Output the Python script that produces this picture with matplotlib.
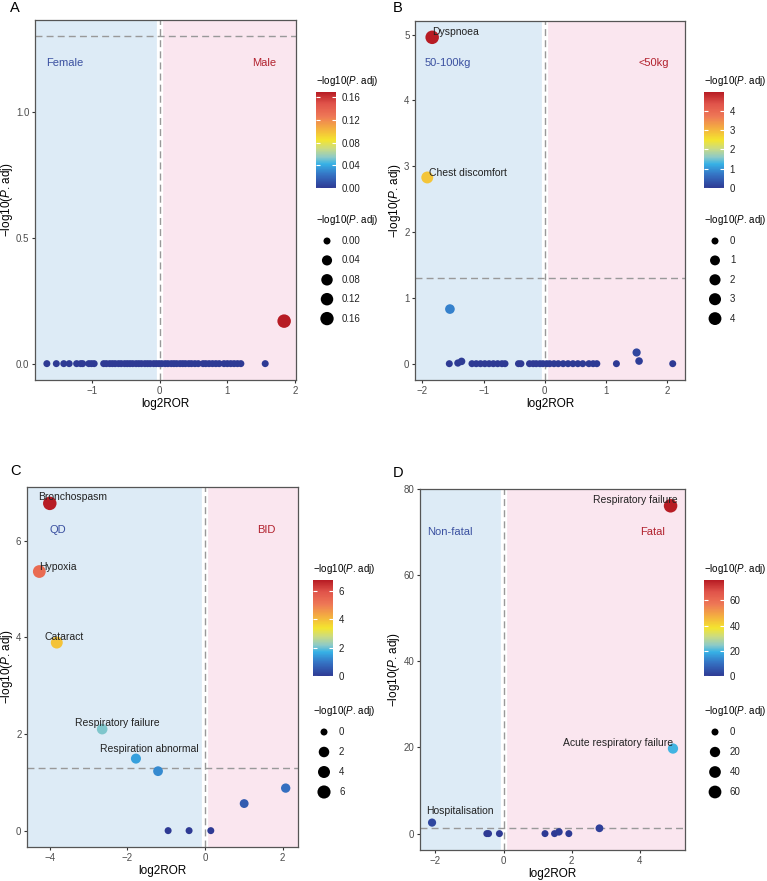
import numpy as np
import matplotlib
matplotlib.use("Agg")
import matplotlib.pyplot as plt
from matplotlib.colors import LinearSegmentedColormap, Normalize
from matplotlib.cm import ScalarMappable

plt.rcParams["font.family"] = ["Liberation Sans", "DejaVu Sans"]
plt.rcParams["mathtext.fontset"] = "custom"
plt.rcParams["mathtext.rm"] = "Liberation Sans"
plt.rcParams["mathtext.it"] = "Liberation Sans:italic"

W, H = 767, 881

# ---- A: sex (Female vs Male) ----
a_x = [-1.67, -1.53, -1.42, -1.34, -1.23, -1.17, -1.14, -1.05, -1.01, -0.97,
       -0.83, -0.79, -0.74, -0.70, -0.66, -0.61, -0.57, -0.52, -0.48, -0.44,
       -0.40, -0.35, -0.31, -0.27, -0.22, -0.18, -0.14, -0.09, -0.05, -0.01,
       0.03, 0.08, 0.12, 0.17, 0.21, 0.25, 0.30, 0.34, 0.38, 0.43,
       0.47, 0.52, 0.57, 0.64, 0.68, 0.73, 0.78, 0.83, 0.88, 0.95,
       1.00, 1.05, 1.10, 1.15, 1.20, 1.56, 1.84]
a_y = [0.0, 0.0, 0.0, 0.0, 0.0, 0.0, 0.0, 0.0, 0.0, 0.0,
       0.0, 0.0, 0.0, 0.0, 0.0, 0.0, 0.0, 0.0, 0.0, 0.0,
       0.0, 0.0, 0.0, 0.0, 0.0, 0.0, 0.0, 0.0, 0.0, 0.0,
       0.0, 0.0, 0.0, 0.0, 0.0, 0.0, 0.0, 0.0, 0.0, 0.0,
       0.0, 0.0, 0.0, 0.0, 0.0, 0.0, 0.0, 0.0, 0.0, 0.0,
       0.0, 0.0, 0.0, 0.0, 0.0, 0.0, 0.169]
a_groups = ["Female", "Male"]
a_group_x = [-1.40, 1.55]
a_labels, a_lab_x, a_lab_y = [], [], []

# ---- B: weight (50-100kg vs <50kg) ----
b_x = [-1.84, -1.92, -1.55, -1.56, -1.42, -1.36, -1.19, -1.12, -1.05, -0.98,
       -0.91, -0.84, -0.77, -0.70, -0.65, -0.43, -0.39, -0.25, -0.19, -0.14,
       -0.08, -0.03, 0.03, 0.08, 0.15, 0.22, 0.30, 0.38, 0.46, 0.54,
       0.62, 0.72, 0.79, 0.85, 1.17, 1.50, 1.54, 2.09]
b_y = [4.96, 2.83, 0.83, 0.0, 0.01, 0.035, 0.0, 0.0, 0.0, 0.0,
       0.0, 0.0, 0.0, 0.0, 0.0, 0.0, 0.0, 0.0, 0.0, 0.0,
       0.0, 0.0, 0.0, 0.0, 0.0, 0.0, 0.0, 0.0, 0.0, 0.0,
       0.0, 0.0, 0.0, 0.0, 0.0, 0.17, 0.04, 0.0]
b_groups = ["50-100kg", "<50kg"]
b_group_x = [-1.59, 1.78]
b_labels = ["Dyspnoea", "Chest discomfort"]
b_lab_x = [-1.46, -1.25]
b_lab_y = [5.04, 2.90]

# ---- C: dosing (QD vs BID) ----
c_x = [-4.00, -4.27, -3.82, -2.65, -1.78, -1.21, -0.95, -0.41, 0.15, 1.01, 2.08]
c_y = [6.77, 5.36, 3.89, 2.10, 1.49, 1.23, 0.0, 0.0, 0.0, 0.56, 0.88]
c_groups = ["QD", "BID"]
c_group_x = [-3.79, 1.59]
c_labels = ["Bronchospasm", "Hypoxia", "Cataract", "Respiratory failure", "Respiration abnormal"]
c_lab_x = [-3.40, -3.80, -3.63, -2.26, -1.43]
c_lab_y = [6.90, 5.46, 4.01, 2.22, 1.69]

# ---- D: outcome (Non-fatal vs Fatal) ----
d_x = [4.91, 4.98, -2.10, -0.49, -0.44, -0.12, 1.22, 1.50, 1.63, 1.92, 2.82]
d_y = [76.1, 19.75, 2.56, 0.0, 0.0, 0.0, 0.0, 0.0, 0.4, 0.0, 1.24]
d_groups = ["Non-fatal", "Fatal"]
d_group_x = [-1.59, 4.37]
d_labels = ["Respiratory failure", "Acute respiratory failure", "Hospitalisation"]
d_lab_x = [3.88, 3.37, -1.29]
d_lab_y = [77.5, 21.0, 5.2]

cmap = LinearSegmentedColormap.from_list("padj", [
    (0.00, "#2E3A94"), (0.14, "#3573C4"), (0.25, "#36B1E6"), (0.32, "#8CCAC8"),
    (0.41, "#CADB84"), (0.50, "#F4E52E"), (0.62, "#F4B040"), (0.75, "#EE7756"),
    (0.88, "#E0534A"), (1.00, "#B71C24")])

BLUE_BG, PINK_BG = "#DDEBF6", "#FAE6EF"
BLUE_TXT, RED_TXT = "#3A50A0", "#B2222E"
TICK_C = "#4D4D4D"
YLAB = r"$-$log10($\mathit{P}$. adj)"
CUT = 1.301

fig = plt.figure(figsize=(W / 100, H / 100), dpi=100)


def px_rect(l, t, r, b):
    return [l / W, 1 - b / H, (r - l) / W, (b - t) / H]


def dot_size(v, vmax):
    d = 7.0 + 6.5 * np.sqrt(np.asarray(v) / vmax)
    return (d * 0.72) ** 2


def volcano(rect, xs, ys, groups, group_x, labels, lab_x, lab_y, xticks, yticks, yfmt):
    ax = fig.add_axes(px_rect(*rect))
    xs, ys = np.asarray(xs), np.asarray(ys)
    vmax = ys.max()
    x0, x1 = min(xs.min(), 0), max(xs.max(), 0)
    y0, y1 = min(ys.min(), 0), max(ys.max(), CUT)
    ax.set_xlim(x0 - 0.05 * (x1 - x0), x1 + 0.05 * (x1 - x0))
    ax.set_ylim(y0 - 0.05 * (y1 - y0), y1 + 0.05 * (y1 - y0))
    xl = ax.get_xlim()
    ax.axvspan(xl[0], 0, color=BLUE_BG, lw=0, zorder=0)
    ax.axvspan(0, xl[1], color=PINK_BG, lw=0, zorder=0)
    ax.axvline(0, color="white", lw=4.5, zorder=1)
    ax.axvline(0, color="#999999", lw=1, ls=(0, (5, 3)), zorder=2)
    ax.axhline(CUT, color="#999999", lw=1, ls=(0, (5, 3)), zorder=2)
    ax.scatter(xs, ys, s=dot_size(ys, vmax), c=ys, cmap=cmap, vmin=0, vmax=vmax,
               linewidths=0, zorder=3)
    gy = 0.92 * y1
    ax.text(group_x[0], gy, groups[0], color=BLUE_TXT, fontsize=8, ha="center", va="center", zorder=4)
    ax.text(group_x[1], gy, groups[1], color=RED_TXT, fontsize=8, ha="center", va="center", zorder=4)
    for lab, lx, ly in zip(labels, lab_x, lab_y):
        ax.text(lx, ly, lab, fontsize=7.5, color="#222222", ha="center", va="center", zorder=5)
    ax.set_xticks(xticks)
    ax.set_yticks(yticks)
    ax.set_yticklabels([yfmt % t for t in yticks])
    ax.set_xticklabels([("%g" % t).replace("-", "\u2212") for t in xticks])
    ax.tick_params(length=2.5, width=0.8, color="#333333", labelsize=7, labelcolor=TICK_C, pad=1.5)
    for sp in ax.spines.values():
        sp.set_color("#555555")
        sp.set_linewidth(0.9)
    ax.set_xlabel("log2ROR", fontsize=8.5, labelpad=2)
    ax.set_ylabel(YLAB, fontsize=8.5, labelpad=0.8)
    return ax, vmax


def colour_key(rect, vmax, ticks, fmt):
    cax = fig.add_axes(px_rect(*rect))
    cb = fig.colorbar(ScalarMappable(Normalize(0, vmax), cmap), cax=cax)
    cb.outline.set_visible(False)
    cb.set_ticks(ticks)
    cb.set_ticklabels([fmt % t for t in ticks])
    cax.yaxis.set_ticks_position("both")
    cax.tick_params(direction="in", length=3, width=0.8, color="white",
                    labelleft=False, labelright=True, labelsize=7, labelcolor="#222222", pad=4)
    fig.text(rect[0] / W, 1 - (rect[1] - 11) / H, YLAB, fontsize=7, ha="left", va="center")


def size_key(left, top, vals, fmt, vmax, step):
    n = len(vals)
    fig.text(left / W, 1 - top / H, YLAB, fontsize=7, ha="left", va="center")
    r0 = top + 21
    kax = fig.add_axes(px_rect(left, r0 - step / 2, left + 50, r0 + (n - 0.5) * step))
    kax.set_xlim(0, 50)
    kax.set_ylim(n - 0.5, -0.5)
    kax.axis("off")
    rows = np.arange(n)
    kax.scatter(np.full(n, 11), rows, s=dot_size(vals, vmax), color="black", linewidths=0)
    for i, v in zip(rows, vals):
        kax.text(26, i, fmt % v, fontsize=7, color="#222222", ha="left", va="center")


ax, vm = volcano((35, 20, 296, 380), a_x, a_y, a_groups, a_group_x, a_labels, a_lab_x, a_lab_y,
                 [-1, 0, 1, 2], [0.0, 0.5, 1.0], "%.1f")
colour_key((316, 92, 336, 188), vm, [0, 0.04, 0.08, 0.12, 0.16], "%.2f")
size_key(316, 220, [0, 0.04, 0.08, 0.12, 0.16], "%.2f", vm, 19.4)

ax, vm = volcano((415, 21, 685, 380), b_x, b_y, b_groups, b_group_x, b_labels, b_lab_x, b_lab_y,
                 [-2, -1, 0, 1, 2], [0, 1, 2, 3, 4, 5], "%d")
colour_key((704, 92, 724, 188), vm, [0, 1, 2, 3, 4], "%d")
size_key(704, 220, [0, 1, 2, 3, 4], "%d", vm, 19.4)

ax, vm = volcano((27, 487, 298, 847), c_x, c_y, c_groups, c_group_x, c_labels, c_lab_x, c_lab_y,
                 [-4, -2, 0, 2], [0, 2, 4, 6], "%d")
colour_key((313, 580, 333, 676), vm, [0, 2, 4, 6], "%d")
size_key(313, 711, [0, 2, 4, 6], "%d", vm, 20)

ax, vm = volcano((420, 489, 685, 850), d_x, d_y, d_groups, d_group_x, d_labels, d_lab_x, d_lab_y,
                 [-2, 0, 2, 4], [0, 20, 40, 60, 80], "%d")
colour_key((704, 580, 724, 676), vm, [0, 20, 40, 60], "%d")
size_key(704, 711, [0, 20, 40, 60], "%d", vm, 20)

for letter, lx, ly in [("A", 10, 8), ("B", 393, 8), ("C", 10, 471), ("D", 393, 473)]:
    fig.text(lx / W, 1 - ly / H, letter, fontsize=10.5, ha="left", va="center")

fig.savefig("out.png", dpi=100)
